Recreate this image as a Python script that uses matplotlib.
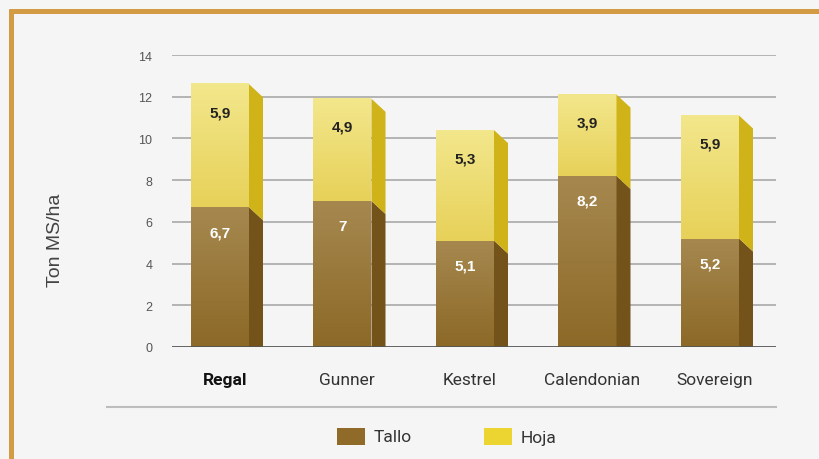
import numpy as np
import matplotlib
matplotlib.use("Agg")
import matplotlib.pyplot as plt
from matplotlib.colors import LinearSegmentedColormap
from matplotlib.patches import Polygon, Rectangle
from matplotlib.lines import Line2D

# ---- data ----
varieties = ["Regal", "Gunner", "Kestrel", "Calendonian", "Sovereign"]
tallo = [6.7, 7.0, 5.1, 8.2, 5.2]
hoja = [5.9, 4.9, 5.3, 3.9, 5.9]
tallo_labels = ["6,7", "7", "5,1", "8,2", "5,2"]
hoja_labels = ["5,9", "4,9", "5,3", "3,9", "5,9"]
yticks = [0, 2, 4, 6, 8, 10, 12, 14]

W, H = 820, 460
BG = "#f5f5f5"
GOLD = "#d39c44"

fig = plt.figure(figsize=(W / 100, H / 100), dpi=100, facecolor=BG)

# axes placed in pixel terms: x 172..776, y(0)=348, y(14)=56
ax = fig.add_axes([172 / W, (H - 348) / H, (776 - 172) / W, (348 - 56) / H])
ax.set_facecolor(BG)

spacing = 122.5
x_lo = (172 - 220) / spacing
x_hi = (776 - 220) / spacing
bar_w = 58 / spacing
depth = 14 / spacing
drop = 13 / (292 / 14)

tallo_cmap = LinearSegmentedColormap.from_list("tallo", ["#8c6927", "#a6884f"])
hoja_cmap = LinearSegmentedColormap.from_list("hoja", ["#e7d159", "#f3e78c"])
tallo_side = "#73531a"
hoja_side = "#cfb319"

grad = np.linspace(0, 1, 100).reshape(-1, 1)

for gy in yticks[1:]:
    ax.axhline(gy, color="#b4b4b4", lw=1.4, zorder=1)
ax.axhline(0, color="#555555", lw=2, zorder=6)


def draw_segment(xc, lo, hi, cmap, side_col):
    x0, x1 = xc - bar_w / 2, xc + bar_w / 2
    ax.imshow(grad, extent=[x0, x1, lo, hi], origin="lower", cmap=cmap,
              aspect="auto", interpolation="bilinear", zorder=3)
    lo_side = lo - drop if lo > 0 else 0
    side = Polygon([(x1, lo), (x1 + depth, max(lo_side, 0)),
                    (x1 + depth, hi - drop), (x1, hi)],
                   closed=True, facecolor=side_col, edgecolor="none", zorder=3)
    ax.add_patch(side)


for i, name in enumerate(varieties):
    t, h = tallo[i], hoja[i]
    draw_segment(i, 0, t, tallo_cmap, tallo_side)
    draw_segment(i, t, t + h, hoja_cmap, hoja_side)
    ax.annotate(tallo_labels[i], (i, t), xytext=(0, -25), textcoords="offset pixels",
                ha="center", va="center", color="white", fontsize=11,
                fontweight="bold", family="Liberation Sans", zorder=5)
    ax.annotate(hoja_labels[i], (i, t + h), xytext=(0, -28), textcoords="offset pixels",
                ha="center", va="center", color="#222222", fontsize=11,
                fontweight="bold", family="Liberation Sans", zorder=5)

ax.set_xlim(x_lo, x_hi)
ax.set_ylim(0, 14)
for s in ax.spines.values():
    s.set_visible(False)

ax.set_yticks(yticks)
ax.set_yticklabels([str(v) for v in yticks], family="Liberation Sans",
                   fontsize=9, color="#555555")
ax.tick_params(axis="y", length=0, pad=14)

label_pos = [i + depth / 3 for i in range(len(varieties))]
ax.set_xticks(label_pos)
ax.set_xticklabels(varieties, family="Roboto", fontsize=12.5, color="#333333")
ax.get_xticklabels()[0].set_fontweight("bold")
ax.get_xticklabels()[0].set_color("#111111")
ax.tick_params(axis="x", length=0, pad=18)

fig.text(56 / W, 1 - 240 / H, "Ton MS/ha", rotation=90, ha="center", va="center",
         family="Liberation Sans", fontsize=14, color="#444444")

# separator line under the categories
fig.add_artist(Line2D([107 / W, 776 / W], [1 - 408 / H, 1 - 408 / H],
                      color="#bdbdbd", lw=1.5))

# legend
for x0, col, txt in [(337, "#8f6a28", "Tallo"), (484, "#ecd530", "Hoja")]:
    fig.add_artist(Rectangle((x0 / W, 1 - 446 / H), 28 / W, 17 / H,
                             facecolor=col, edgecolor="none",
                             transform=fig.transFigure))
    fig.text((x0 + 37) / W, 1 - 438 / H, txt, ha="left", va="center",
             family="Roboto", fontsize=12.5, color="#333333")

# gold frame on top and left
fig.add_artist(Line2D([9 / W, 1.0], [1 - 12 / H, 1 - 12 / H], color=GOLD, lw=3.6,
                      solid_capstyle="butt"))
fig.add_artist(Line2D([11.5 / W, 11.5 / W], [0, 1 - 9.5 / H], color=GOLD, lw=3.6,
                      solid_capstyle="butt"))

fig.savefig("out.png", dpi=100, facecolor=BG)
